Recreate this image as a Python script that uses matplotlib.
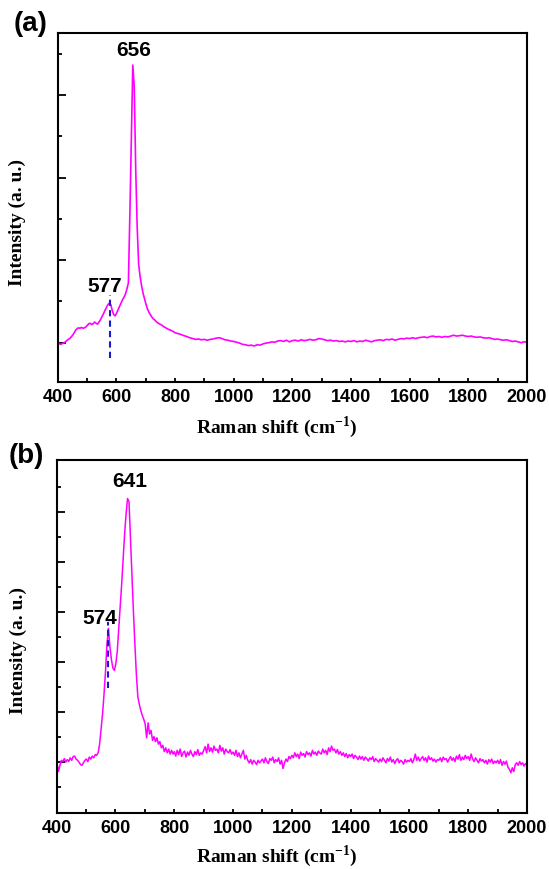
import numpy as np
import matplotlib
matplotlib.use("Agg")
import matplotlib.pyplot as plt
from matplotlib.ticker import MultipleLocator, FixedLocator, NullFormatter

plt.rcParams['mathtext.fontset'] = 'custom'
plt.rcParams['mathtext.bf'] = 'Liberation Serif:bold'
plt.rcParams['mathtext.rm'] = 'Liberation Serif:bold'

# Raman shift sampling: 5 cm-1 steps up to 800 cm-1, then 10 (a) or 5 (b)
shift_low = np.arange(401, 800, 5)          # 401 ... 796
shift_a = np.concatenate([shift_low, np.arange(800, 2001, 10)])
shift_b = np.concatenate([shift_low, np.arange(800, 2001, 5)])

# Spectrum (a), arbitrary intensity units
intensity_a_low = [
    0.98, 0.97, 0.96, 0.98, 0.99, 1.02, 1.05, 1.08, 1.10, 1.14, 1.18, 1.24, 1.30, 1.34, 1.36, 1.35, 1.37, 1.35, 1.36, 1.38,
    1.42, 1.46, 1.47, 1.44, 1.46, 1.50, 1.47, 1.45, 1.50, 1.56, 1.63, 1.70, 1.78, 1.85, 1.92, 1.96, 1.92, 1.78, 1.68, 1.65,
    1.72, 1.80, 1.88, 1.96, 2.04, 2.10, 2.18, 2.30, 2.45, 4.10, 5.90, 7.73, 7.20, 5.20, 3.80, 2.90, 2.60, 2.38, 2.20, 2.06,
    1.93, 1.82, 1.74, 1.68, 1.62, 1.58, 1.55, 1.51, 1.48, 1.46, 1.44, 1.42, 1.39, 1.37, 1.35, 1.33, 1.31, 1.30, 1.28, 1.26,
]
intensity_a_high = [
    1.24, 1.22, 1.20, 1.17, 1.15, 1.12, 1.10, 1.08, 1.09, 1.07,
    1.08, 1.06, 1.08, 1.09, 1.11, 1.12, 1.10, 1.07, 1.06, 1.04,
    1.03, 1.01, 0.99, 0.96, 0.95, 0.93, 0.94, 0.92, 0.95, 0.94,
    0.97, 0.99, 1.00, 1.02, 1.01, 1.04, 1.05, 1.03, 1.06, 1.02,
    1.05, 1.06, 1.04, 1.07, 1.05, 1.06, 1.08, 1.06, 1.07, 1.10,
    1.09, 1.07, 1.05, 1.06, 1.04, 1.05, 1.03, 1.04, 1.02, 1.04,
    1.03, 1.05, 1.02, 1.04, 1.03, 1.06, 1.04, 1.02, 1.05, 1.06,
    1.07, 1.05, 1.08, 1.07, 1.09, 1.06, 1.08, 1.10, 1.09, 1.11,
    1.10, 1.12, 1.10, 1.12, 1.13, 1.14, 1.12, 1.15, 1.16, 1.14,
    1.15, 1.13, 1.15, 1.14, 1.16, 1.18, 1.16, 1.17, 1.18, 1.16,
    1.15, 1.16, 1.14, 1.13, 1.14, 1.12, 1.11, 1.12, 1.10, 1.08,
    1.09, 1.07, 1.06, 1.07, 1.05, 1.03, 1.04, 1.02, 1.00, 1.02,
    1.01,
]

# Spectrum (b), arbitrary intensity units
intensity_b_low = [
    1.93, 1.60, 1.85, 2.05, 2.00, 2.12, 1.98, 2.08, 2.00, 2.15, 2.05, 2.20, 2.22, 2.10, 2.05, 1.98, 1.88, 1.85, 1.95, 2.05,
    2.10, 2.00, 2.18, 2.10, 2.22, 2.15, 2.28, 2.25, 2.35, 2.70, 3.30, 3.90, 4.70, 5.60, 6.70, 7.33, 6.60, 6.10, 5.75, 5.65,
    5.90, 6.40, 7.30, 8.20, 9.10, 10.10, 11.10, 11.90, 12.53, 12.40, 10.90, 9.30, 8.00, 6.70, 5.50, 4.60, 4.30, 4.05, 3.85, 3.70,
    3.50, 2.95, 3.55, 3.10, 3.25, 2.85, 3.00, 2.80, 2.95, 2.70, 2.80, 2.55, 2.65, 2.40, 2.55, 2.35, 2.50, 2.30, 2.45, 2.30,
]
intensity_b_high = [
    2.40, 2.22, 2.45, 2.28, 2.50, 2.20, 2.35, 2.42, 2.18, 2.38, 2.25, 2.45, 2.30, 2.20, 2.40, 2.28, 2.48, 2.25, 2.35, 2.30,
    2.45, 2.60, 2.35, 2.70, 2.40, 2.55, 2.38, 2.62, 2.45, 2.50, 2.35, 2.65, 2.42, 2.55, 2.30, 2.50, 2.40, 2.35, 2.48, 2.30,
    2.38, 2.25, 2.45, 2.20, 2.35, 2.15, 2.30, 2.45, 2.10, 2.25, 2.05, 1.95, 2.08, 1.90, 2.05, 1.98, 1.88, 2.05, 1.95, 2.02,
    2.10, 1.95, 2.15, 2.00, 1.92, 2.12, 2.05, 2.18, 1.95, 2.08, 2.00, 2.15, 1.90, 2.05, 1.72, 1.95, 2.10, 2.00, 2.20, 2.12,
    2.25, 2.15, 2.35, 2.20, 2.30, 2.12, 2.38, 2.25, 2.32, 2.18, 2.40, 2.28, 2.35, 2.22, 2.45, 2.30, 2.38, 2.25, 2.42, 2.35,
    2.30, 2.50, 2.35, 2.45, 2.28, 2.55, 2.40, 2.62, 2.45, 2.50, 2.35, 2.48, 2.30, 2.40, 2.25, 2.35, 2.20, 2.32, 2.15, 2.28,
    2.20, 2.30, 2.12, 2.25, 2.18, 2.08, 2.22, 2.10, 2.20, 2.05, 2.18, 2.12, 2.02, 2.15, 2.08, 2.20, 2.00, 2.12, 2.05, 1.98,
    2.10, 2.00, 2.15, 2.05, 1.95, 2.12, 2.02, 2.18, 1.98, 2.08, 1.92, 2.05, 2.12, 1.95, 2.05, 2.00, 1.90, 2.08, 1.98, 2.05,
    2.00, 2.12, 1.95, 2.08, 2.30, 2.05, 2.18, 2.02, 2.12, 2.20, 2.05, 2.15, 1.98, 2.22, 2.08, 2.15, 2.02, 2.10, 1.98, 2.08,
    2.05, 2.15, 2.00, 2.18, 2.08, 2.12, 1.98, 2.10, 2.20, 2.05, 2.15, 2.00, 2.22, 2.10, 2.28, 2.05, 2.18, 2.08, 2.25, 2.12,
    2.20, 2.05, 2.30, 2.10, 2.00, 2.15, 2.05, 1.95, 2.12, 2.02, 2.08, 1.95, 2.05, 1.90, 2.08, 1.98, 2.10, 1.92, 2.02, 1.95,
    2.05, 1.92, 2.08, 1.85, 2.00, 1.90, 2.02, 1.78, 1.70, 1.55, 1.75, 1.60, 1.88, 1.95, 1.85, 2.00, 1.88, 1.95, 1.82, 1.92,
    1.87,
]

intensity_a = np.array(intensity_a_low + intensity_a_high)
intensity_b = np.array(intensity_b_low + intensity_b_high)

# Peak labels: (value, label x, label y)
peaks_a = [(656, 660.7, 8.09), (577, 561, 2.36)]
peaks_b = [(641, 649, 13.2), (574, 547, 7.74)]
# Dashed marker: (x, y start, y end)
marker_a = (577, 0.62, 2.16)
marker_b = (574, 4.94, 7.60)

LINE = '#ff00ff'
DASH = '#1a1acc'
sans = 'Liberation Sans'
serif = 'Liberation Serif'

W, H = 549, 869
fig = plt.figure(figsize=(W / 100, H / 100), dpi=100)

ax_a = fig.add_axes([57.7 / W, 1 - 381.7 / H, (527 - 57.7) / W, (381.7 - 33.3) / H])
ax_b = fig.add_axes([56.7 / W, 1 - 813.3 / H, (527 - 56.7) / W, (813.3 - 460) / H])


def style(ax, ylim, ymajor, yminor):
    ax.set_xlim(400, 2000)
    ax.set_ylim(*ylim)
    ax.xaxis.set_major_locator(MultipleLocator(200))
    ax.xaxis.set_minor_locator(MultipleLocator(100))
    ax.yaxis.set_major_locator(FixedLocator(ymajor))
    ax.yaxis.set_minor_locator(FixedLocator(yminor))
    ax.yaxis.set_major_formatter(NullFormatter())
    ax.tick_params(axis='x', which='major', direction='in', length=3.0, width=1.3,
                   pad=5, labelsize=13, top=False)
    ax.tick_params(axis='x', which='minor', direction='in', length=3.0, width=1.3, top=False)
    ax.tick_params(axis='y', which='major', direction='in', length=5.5, width=1.3, right=False)
    ax.tick_params(axis='y', which='minor', direction='in', length=3.0, width=1.3, right=False)
    for lab in ax.get_xticklabels():
        lab.set_fontfamily(sans)
        lab.set_fontweight('bold')
    for sp in ax.spines.values():
        sp.set_linewidth(1.5)


style(ax_a, (0.054, 8.5), [1, 3, 5, 7], [2, 4, 6, 8])
style(ax_b, (-0.07, 14.07), [2, 4, 6, 8, 10, 12], [1, 3, 5, 7, 9, 11, 13])

ax_a.plot(shift_a, intensity_a, color=LINE, lw=1.2)
ax_b.plot(shift_b, intensity_b, color=LINE, lw=1.1)

for ax, peaks, marker in ((ax_a, peaks_a, marker_a), (ax_b, peaks_b, marker_b)):
    x, y0, y1 = marker
    ax.plot([x, x], [y0, y1], color=DASH, lw=1.5, ls=(0, (3, 2)))
    for val, tx, ty in peaks:
        ax.text(tx, ty, str(val), ha='center', va='center', fontsize=15,
                fontweight='bold', family=sans)

# Axis titles and panel letters
xlabel = r'Raman shift (cm$^{\mathbf{-1}}$)'
ylabel = 'Intensity (a. u.)'
fig.text(277 / W, 1 - 427 / H, xlabel, ha='center', va='center', fontsize=14,
         fontweight='bold', family=serif)
fig.text(277 / W, 1 - 856 / H, xlabel, ha='center', va='center', fontsize=14,
         fontweight='bold', family=serif)
fig.text(17 / W, 1 - 222 / H, ylabel, ha='center', va='center', rotation=90,
         fontsize=14, fontweight='bold', family=serif)
fig.text(18 / W, 1 - 650 / H, ylabel, ha='center', va='center', rotation=90,
         fontsize=14, fontweight='bold', family=serif)
fig.text(31 / W, 1 - 24 / H, '(a)', ha='center', va='center', fontsize=20,
         fontweight='bold', family=sans)
fig.text(26.5 / W, 1 - 456 / H, '(b)', ha='center', va='center', fontsize=20,
         fontweight='bold', family=sans)

fig.savefig('out.png', dpi=100)
